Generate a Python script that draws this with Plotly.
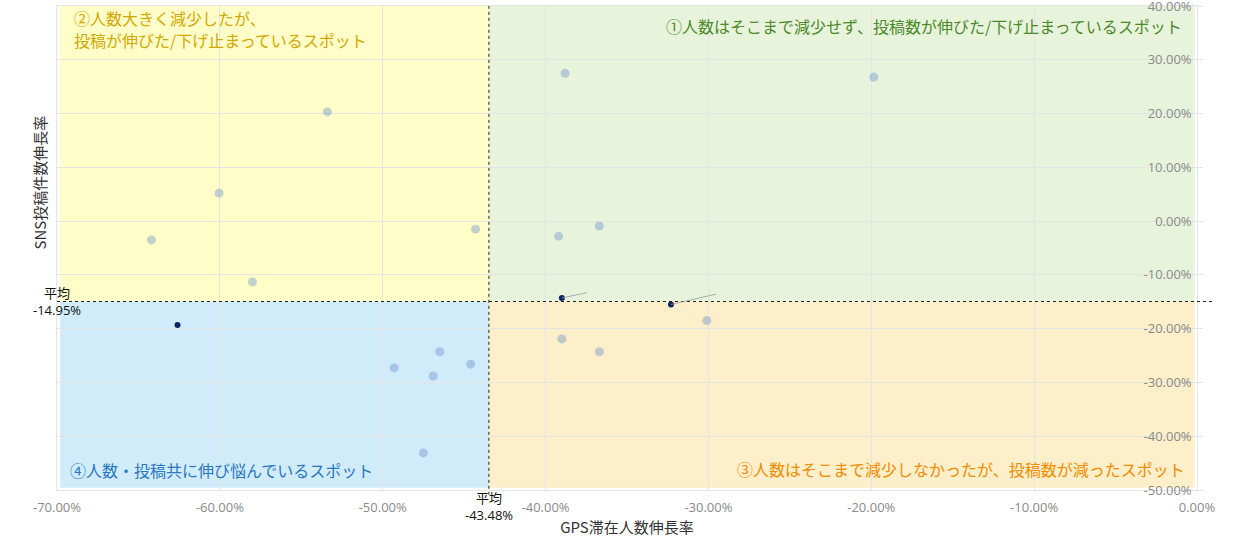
import plotly.graph_objects as go

# GPS stay-population growth (%) and SNS post growth (%) per spot
gps_growth = [-38.8, -19.85, -53.4, -60.05, -44.3, -64.2, -39.2, -36.7, -58.0,
              -30.1, -39.0, -36.7, -46.5, -44.6, -49.3, -46.9, -47.5]
sns_growth = [27.5, 26.8, 20.3, 5.2, -1.5, -3.5, -2.8, -0.9, -11.3,
              -18.5, -21.9, -24.3, -24.3, -26.6, -27.3, -28.8, -43.1]

# highlighted spots
hl_gps = [-39.0, -32.3, -62.6]
hl_sns = [-14.3, -15.5, -19.3]

mean_gps = -43.48
mean_sns = -14.95

x_range = [-70, 0]
y_range = [-50, 40]
x_ticks = [-70, -60, -50, -40, -30, -20, -10, 0]
y_ticks = [40, 30, 20, 10, 0, -10, -20, -30, -40, -50]

FONT = "Noto Sans CJK JP"
NUMFONT = "Open Sans, Noto Sans CJK JP"

fig = go.Figure()

fig.add_trace(go.Scatter(
    x=gps_growth, y=sns_growth, mode="markers",
    marker=dict(size=9, color="rgba(110,145,205,0.42)", line=dict(width=0)),
    hoverinfo="x+y", showlegend=False))

fig.add_trace(go.Scatter(
    x=hl_gps, y=hl_sns, mode="markers",
    marker=dict(size=6, color="#0b2466", line=dict(width=0)),
    hoverinfo="x+y", showlegend=False))

# quadrant backgrounds
qx0, qx1, qy0, qy1 = -69.8, -0.15, -49.6, 40
quads = [
    (qx0, mean_gps, mean_sns, qy1, "#fffdc8"),
    (mean_gps, qx1, mean_sns, qy1, "#e8f3dc"),
    (qx0, mean_gps, qy0, mean_sns, "#d0ebf9"),
    (mean_gps, qx1, qy0, mean_sns, "#fdefc9"),
]
for x0, x1, y0, y1, c in quads:
    fig.add_shape(type="rect", xref="x", yref="y", x0=x0, x1=x1, y0=y0, y1=y1,
                  fillcolor=c, line=dict(width=0), layer="below")

# mean lines
fig.add_shape(type="line", xref="paper", yref="y", x0=0, x1=1.015,
              y0=mean_sns, y1=mean_sns, line=dict(color="#222", width=1, dash="dot"))
fig.add_shape(type="line", xref="x", yref="paper", x0=mean_gps, x1=mean_gps,
              y0=-0.01, y1=1.0, line=dict(color="#222", width=1, dash="dot"))

# leader lines of highlighted labels
for gx, sy, ax, ay in [(hl_gps[0], hl_sns[0], 28, -6), (hl_gps[1], hl_sns[1], 48, -11)]:
    fig.add_annotation(x=gx, y=sy, xref="x", yref="y", text=" ", showarrow=True,
                       arrowhead=0, arrowwidth=0.8, arrowcolor="#999",
                       ax=ax, ay=ay, standoff=0, startstandoff=0)

# quadrant captions
fig.add_annotation(xref="paper", yref="paper", x=0.013, y=0.9755, xanchor="left", yanchor="middle",
                   text="②人数大きく減少したが、", showarrow=False, align="left",
                   font=dict(family=FONT, size=16, color="#d2a800"))
fig.add_annotation(xref="paper", yref="paper", x=0.013, y=0.930, xanchor="left", yanchor="middle",
                   text="投稿が伸びた/下げ止まっているスポット", showarrow=False, align="left",
                   font=dict(family=FONT, size=16, color="#d2a800"))
fig.add_annotation(xref="paper", yref="paper", x=0.9885, y=0.9595, xanchor="right", yanchor="middle",
                   text="①人数はそこまで減少せず、投稿数が伸びた/下げ止まっているスポット",
                   showarrow=False, align="right",
                   font=dict(family=FONT, size=16, color="#4b8a2a"))
fig.add_annotation(xref="paper", yref="paper", x=0.9915, y=0.0434, xanchor="right", yanchor="middle",
                   text="③人数はそこまで減少しなかったが、投稿数が減ったスポット",
                   showarrow=False, align="right",
                   font=dict(family=FONT, size=16, color="#f08c00"))
fig.add_annotation(xref="paper", yref="paper", x=0.0095, y=0.0413, xanchor="left", yanchor="middle",
                   text="④人数・投稿共に伸び悩んでいるスポット",
                   showarrow=False, align="left",
                   font=dict(family=FONT, size=16, color="#2a78c0"))

# mean labels
fig.add_annotation(xref="paper", yref="y", x=0, y=mean_sns, xanchor="center", yanchor="middle",
                   text="平均<br>-14.95%", showarrow=False, align="center",
                   font=dict(family=NUMFONT, size=13, color="#111"))
fig.add_annotation(xref="x", yref="paper", x=mean_gps, y=0, xanchor="center", yanchor="top",
                   yshift=3, text="平均<br>-43.48%", showarrow=False, align="center",
                   font=dict(family=NUMFONT, size=13, color="#111"))

# y axis title (left side)
fig.add_annotation(xref="paper", yref="paper", x=-0.015, y=0.635, xanchor="center", yanchor="middle",
                   text="SNS投稿件数伸長率", textangle=-90, showarrow=False,
                   font=dict(family=FONT, size=15, color="#333"))

fig.update_xaxes(range=x_range, tickmode="array", tickvals=x_ticks,
                 ticktext=[f"{v:.2f}%" for v in x_ticks], automargin=False,
                 ticklabeloverflow="allow", ticklabelstandoff=5,
                 showgrid=True, gridcolor="#e4e4e4", gridwidth=1, zeroline=False,
                 showline=True, linecolor="#e4e4e4", mirror=True,
                 ticks="", tickfont=dict(family=NUMFONT, size=13, color="#8a8a8a"),
                 title=dict(text="GPS滞在人数伸長率", standoff=0,
                            font=dict(family=FONT, size=15, color="#333")))
fig.update_yaxes(range=y_range, tickmode="array", tickvals=y_ticks,
                 ticktext=[f"{v:.2f}%" for v in y_ticks], automargin=False,
                 side="right", ticklabelposition="inside", ticklabeloverflow="allow",
                 ticklabelstandoff=5,
                 showgrid=True, gridcolor="#e4e4e4", gridwidth=1, zeroline=False,
                 showline=True, linecolor="#e4e4e4", mirror=True,
                 ticks="outside", ticklen=5, tickcolor="#e4e4e4",
                 tickfont=dict(family=NUMFONT, size=13, color="#8a8a8a"))

fig.update_layout(
    width=1240, height=538,
    margin=dict(l=57, r=43, t=6, b=48),
    paper_bgcolor="white", plot_bgcolor="white",
    font=dict(family=FONT),
    showlegend=False,
)

fig.write_html("out.html", config={"displayModeBar": False},
               post_script="document.body.style.margin='0';")
